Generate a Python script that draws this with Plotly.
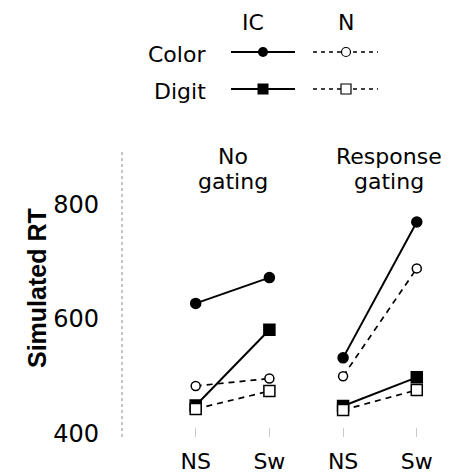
import plotly.graph_objects as go

# ---- data ----
panels = ["No<br>gating", "Response<br>gating"]
conditions = ["NS", "Sw"]
tick_labels = ["NS", "Sw", "NS", "Sw"]
color_ic = [627, 672, 532, 769]
color_n = [483, 496, 500, 688]
digit_ic = [449, 581, 448, 498]
digit_n = [443, 474, 441, 476]

FONT = "DejaVu Sans"
BOLD = "Liberation Sans"

# page has an 8px body margin: figure is drawn 8px smaller and offset
OFF = 8
W, H = 449 - OFF, 475 - OFF
PLOT_L, PLOT_R, PLOT_T, PLOT_B = 122, 445, 152, 437   # in reference pixels
PH = PLOT_B - OFF  # paper height in px (t=0)

def py(y_ref):
    return (PLOT_B - y_ref) / PH

styles = {
    "color_ic": dict(vals=color_ic, dash="solid", symbol="circle", fill="black", size=10, lw=2),
    "digit_ic": dict(vals=digit_ic, dash="solid", symbol="square", fill="black", size=11, lw=2),
    "color_n": dict(vals=color_n, dash="6px,5px", symbol="circle", fill="white", size=9, lw=1.7),
    "digit_n": dict(vals=digit_n, dash="6px,5px", symbol="square", fill="white", size=11, lw=1.7),
}

fig = go.Figure()
n = len(conditions)
xpos = list(range(len(tick_labels)))
for key, st in styles.items():
    for p in range(len(panels)):
        xs = xpos[p * n:(p + 1) * n]
        ys = st["vals"][p * n:(p + 1) * n]
        fig.add_trace(go.Scatter(
            x=xs, y=ys, mode="lines+markers",
            line=dict(color="black", width=st["lw"], dash=st["dash"]),
            marker=dict(symbol=st["symbol"], size=st["size"], color=st["fill"],
                        line=dict(color="black", width=1.5)),
            showlegend=False, hoverinfo="skip", xaxis="x", yaxis="y"))

# ---- custom legend drawn on its own pixel-unit axes ----
leg_rows = [("Color", "circle", 52, 10, 9), ("Digit", "square", 89, 11, 10)]
for label, sym, yy, s_f, s_o in leg_rows:
    fig.add_trace(go.Scatter(x=[231, 263, 295], y=[yy] * 3, mode="lines",
                             line=dict(color="black", width=2), xaxis="x2", yaxis="y2",
                             showlegend=False, hoverinfo="skip"))
    fig.add_trace(go.Scatter(x=[263], y=[yy], mode="markers",
                             marker=dict(symbol=sym, size=s_f, color="black"),
                             xaxis="x2", yaxis="y2", showlegend=False, hoverinfo="skip"))
    fig.add_trace(go.Scatter(x=[313, 346, 378], y=[yy] * 3, mode="lines",
                             line=dict(color="black", width=1.5, dash="4px,4px"), xaxis="x2", yaxis="y2",
                             showlegend=False, hoverinfo="skip"))
    fig.add_trace(go.Scatter(x=[346], y=[yy], mode="markers",
                             marker=dict(symbol=sym, size=s_o, color="white",
                                         line=dict(color="black", width=1.2)),
                             xaxis="x2", yaxis="y2", showlegend=False, hoverinfo="skip"))
    fig.add_annotation(x=208, y=yy + 2, xref="x2", yref="y2", text=label, showarrow=False,
                       xanchor="right", yanchor="middle", font=dict(family=FONT, size=22, color="black"))

for txt, xx in [("IC", 253), ("N", 346)]:
    fig.add_annotation(x=xx, y=22, xref="x2", yref="y2", text=txt, showarrow=False,
                       xanchor="center", yanchor="middle", font=dict(family=FONT, size=22, color="black"))

# ---- panel titles ----
panel_x = [0.5, 2.62]
for p, title in enumerate(panels):
    l1, l2 = title.split("<br>")
    fig.add_annotation(x=panel_x[p], y=py(156), xref="x", yref="paper", text=l1,
                       showarrow=False, xanchor="center", yanchor="middle",
                       font=dict(family=FONT, size=22, color="black"))
    fig.add_annotation(x=panel_x[p], y=py(181), xref="x", yref="paper", text=l2,
                       showarrow=False, xanchor="center", yanchor="middle",
                       font=dict(family=FONT, size=22, color="black"))

# y title
fig.add_annotation(x=(37 - PLOT_L) / (PLOT_R - PLOT_L), y=py(288), xref="paper", yref="paper",
                   text="<b>Simulated RT</b>", textangle=-90, showarrow=False,
                   xanchor="center", yanchor="middle",
                   font=dict(family=BOLD, size=25, color="black"))

# dotted y axis line
fig.add_shape(type="line", xref="paper", yref="y domain", x0=0, x1=0, y0=0, y1=1,
              line=dict(color="#8a8a8a", width=1, dash="dot"))

leg_top = 0.7
fig.update_layout(
    width=W, height=H,
    margin=dict(l=PLOT_L - OFF, r=W - (PLOT_R - OFF), t=0, b=H - (PLOT_B - OFF)),
    paper_bgcolor="white", plot_bgcolor="white",
    xaxis=dict(domain=[0, 1], range=[-1, 3.383], tickvals=xpos, ticktext=tick_labels,
               showgrid=False, zeroline=False, showline=False,
               ticks="inside", ticklen=9, tickcolor="#c8c8c8", tickwidth=1,
               ticklabelstandoff=9,
               tickfont=dict(family=FONT, size=22, color="black"), anchor="y"),
    yaxis=dict(domain=[0, (PLOT_B - PLOT_T) / PH], range=[394, 891], tickvals=[400, 600, 800],
               showgrid=False, zeroline=False, showline=False, ticks="",
               ticklabelstandoff=22,
               tickfont=dict(family=FONT, size=24, color="black"), anchor="x"),
    xaxis2=dict(domain=[0, 1], range=[PLOT_L, PLOT_R], visible=False, anchor="y2"),
    yaxis2=dict(domain=[leg_top, 1], range=[OFF + PH * (1 - leg_top), OFF], visible=False, anchor="x2"),
)

fig.write_html("out.html")
